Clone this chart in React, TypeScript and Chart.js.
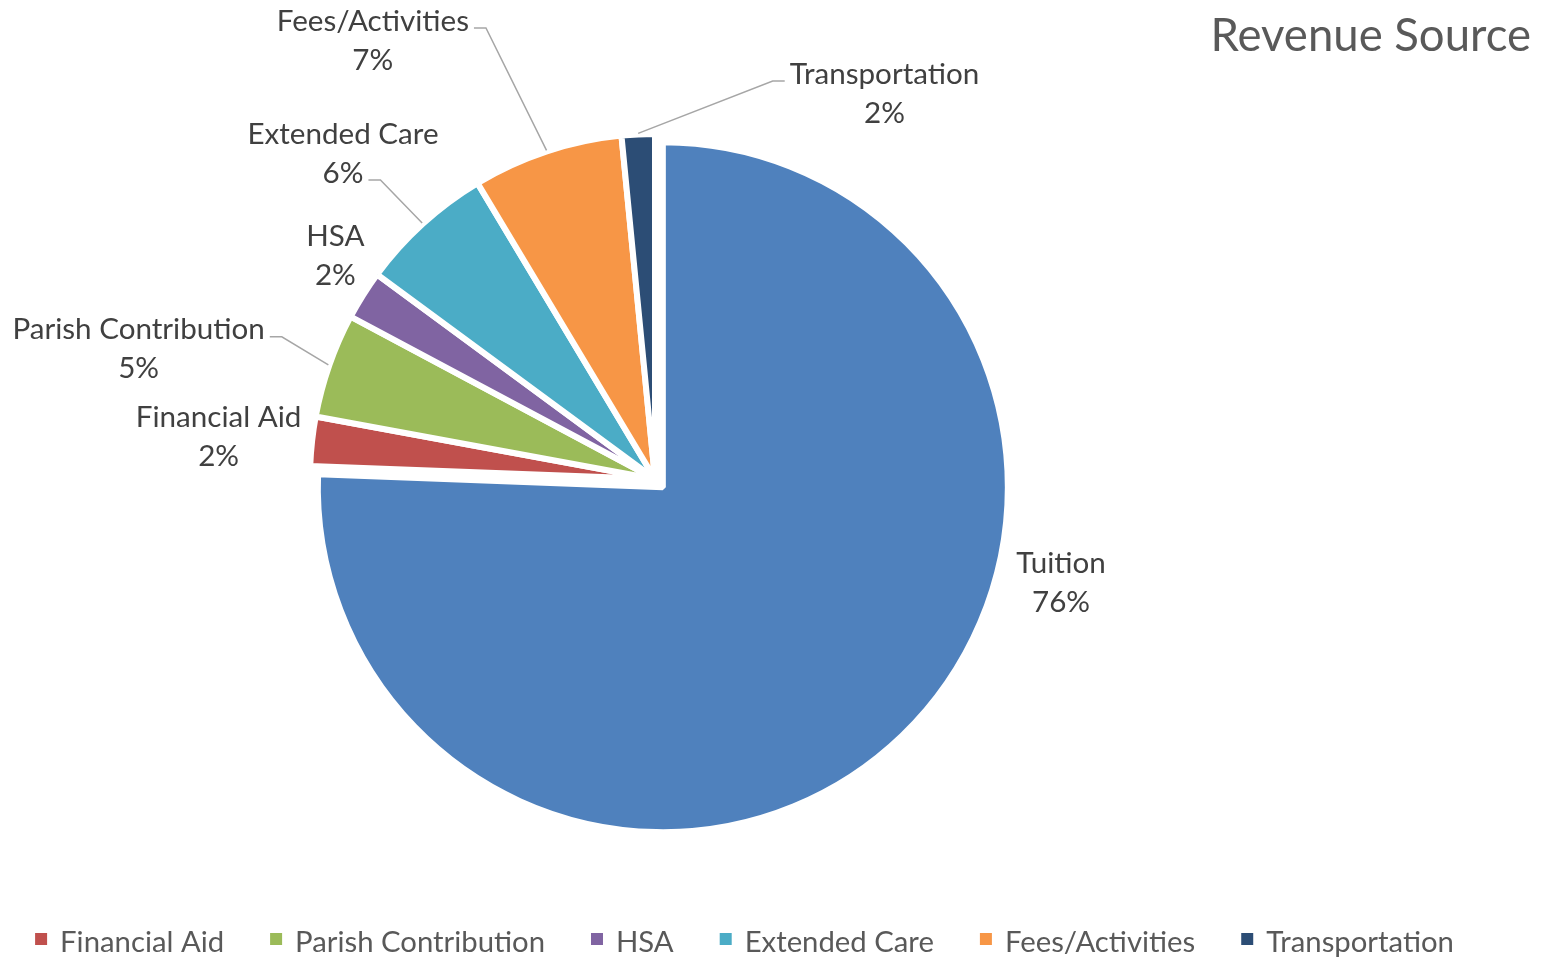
import React, { useEffect, useRef } from 'react';
import { Chart, registerables } from 'chart.js';

Chart.register(...registerables);

// ---------- data ----------
const CATEGORIES = ['Tuition', 'Financial Aid', 'Parish Contribution', 'HSA', 'Extended Care', 'Fees/Activities', 'Transportation'];
const SHARES = [75.6, 2.3, 4.9, 2.3, 6.3, 7.05, 1.55];
const COLORS = ['#4F81BD', '#C0504D', '#9BBB59', '#8064A2', '#4BACC6', '#F79646', '#2C4D75'];
const LEGEND_HIDDEN = ['Tuition'];
const TITLE = 'Revenue Source';

// ---------- layout / style ----------
const W = 1552;
const H = 958;
const PIE_RADIUS = 345;
const EXPLODE = [11.3, 0, 0, 0, 0, 0, 0];
const FONT = 'Lato, "Open Sans", sans-serif';
const LABEL_SIZE = 29.6;
const LEGEND_SIZE = 29.3;
const LINE_GAP = 39;
const CAP_RATIO = 0.7165;
const LABEL_COLOR = '#404040';
const LEADER_COLOR = '#A6A6A6';
const LEGEND_COLOR = '#595959';
const TITLE_COLOR = '#595959';
const TITLE_SIZE = 45.5;

// label block centre: angle clockwise from 12 o'clock (deg), distance in pie radii
type Leader = { side: 'left' | 'right'; line: number } | null;
const LABEL_LAYOUT: { angle: number; dist: number; leader: Leader }[] = [
  { angle: 104.2, dist: 1.214, leader: null },
  { angle: 275.6, dist: 1.271, leader: null },
  { angle: 284.2, dist: 1.544, leader: { side: 'right', line: 0 } },
  { angle: 305.0, dist: 1.131, leader: null },
  { angle: 316.3, dist: 1.309, leader: { side: 'right', line: 1 } },
  { angle: 327.3, dist: 1.514, leader: { side: 'right', line: 0 } },
  { angle: 30.7, dist: 1.303, leader: { side: 'left', line: 0 } },
];

const explodePlugin = {
  id: 'explodeSlices',
  beforeDatasetsDraw(chart: any) {
    const meta = chart.getDatasetMeta(0);
    const ca = chart.chartArea;
    const cx = (ca.left + ca.right) / 2;
    const cy = (ca.top + ca.bottom) / 2;
    meta.data.forEach((arc: any, i: number) => {
      const mid = (arc.startAngle + arc.endAngle) / 2;
      const d = EXPLODE[i] || 0;
      arc.x = cx + Math.cos(mid) * d;
      arc.y = cy + Math.sin(mid) * d;
    });
  },
};

const decorPlugin = {
  id: 'decor',
  afterDraw(chart: any) {
    const ctx = chart.ctx as CanvasRenderingContext2D;
    const meta = chart.getDatasetMeta(0);
    const ca = chart.chartArea;
    const cx = (ca.left + ca.right) / 2;
    const cy = (ca.top + ca.bottom) / 2;
    const values: number[] = chart.data.datasets[0].data;
    const total = values.reduce((a, b) => a + b, 0);

    ctx.save();
    // ---- data labels ----
    ctx.font = `${LABEL_SIZE}px ${FONT}`;
    const cap = LABEL_SIZE * CAP_RATIO;
    meta.data.forEach((arc: any, i: number) => {
      const L = LABEL_LAYOUT[i];
      const R = arc.outerRadius;
      const a = (L.angle * Math.PI) / 180;
      const bx = cx + Math.sin(a) * L.dist * R;
      const by = cy - Math.cos(a) * L.dist * R;
      const pct = Math.round((values[i] / total) * 100);
      const lines = [CATEGORIES[i], `${pct}%`];
      const centers = [by - LINE_GAP / 2, by + LINE_GAP / 2];

      if (L.leader) {
        const w = ctx.measureText(lines[L.leader.line]).width;
        const ly = centers[L.leader.line] + 8;
        const dir = L.leader.side === 'right' ? 1 : -1;
        const sx = bx + dir * (w / 2 + 5);
        const hx = sx + dir * 12;
        const mid = (arc.startAngle + arc.endAngle) / 2;
        const ex = arc.x + Math.cos(mid) * (R + 1);
        const ey = arc.y + Math.sin(mid) * (R + 1);
        ctx.strokeStyle = LEADER_COLOR;
        ctx.lineWidth = 1.5;
        ctx.beginPath();
        ctx.moveTo(sx, ly);
        ctx.lineTo(hx, ly);
        ctx.lineTo(ex, ey);
        ctx.stroke();
      }

      ctx.fillStyle = LABEL_COLOR;
      ctx.textAlign = 'center';
      ctx.textBaseline = 'alphabetic';
      lines.forEach((t, k) => ctx.fillText(t, bx, centers[k] + cap / 2));
    });

    // ---- legend ----
    ctx.font = `${LEGEND_SIZE}px ${FONT}`;
    const items = CATEGORIES.map((c, i) => ({ c, color: COLORS[i] })).filter((it) => !LEGEND_HIDDEN.includes(it.c));
    const BOX = 12;
    const BOX_TO_TEXT = 25;
    const ITEM_GAP = 46;
    const widths = items.map((it) => BOX_TO_TEXT + ctx.measureText(it.c).width);
    const totalW = widths.reduce((a, b) => a + b, 0) + ITEM_GAP * (items.length - 1);
    let x = 744.5 - totalW / 2;
    const baseY = 952;
    items.forEach((it, k) => {
      ctx.fillStyle = it.color;
      ctx.fillRect(x, 933, BOX, BOX);
      ctx.fillStyle = LEGEND_COLOR;
      ctx.textAlign = 'left';
      ctx.textBaseline = 'alphabetic';
      ctx.fillText(it.c, x + BOX_TO_TEXT, baseY);
      x += widths[k] + ITEM_GAP;
    });

    // ---- title ----
    ctx.font = `${TITLE_SIZE}px ${FONT}`;
    ctx.fillStyle = TITLE_COLOR;
    ctx.textAlign = 'right';
    ctx.textBaseline = 'alphabetic';
    ctx.fillText(TITLE, 1531, 51);
    ctx.restore();
  },
};

export default function App() {
  const ref = useRef<HTMLCanvasElement>(null);
  useEffect(() => {
    const canvas = ref.current;
    if (!canvas) return;
    const chart = new Chart(canvas, {
      type: 'pie',
      data: {
        labels: CATEGORIES,
        datasets: [
          {
            data: SHARES,
            backgroundColor: COLORS,
            borderColor: '#FFFFFF',
            borderWidth: 6,
            radius: PIE_RADIUS,
          } as any,
        ],
      },
      options: {
        responsive: false,
        animation: false,
        events: [],
        layout: { padding: { left: 0, right: 242, top: 0, bottom: 0 } },
        plugins: {
          legend: { display: false },
          title: { display: false },
          tooltip: { enabled: false },
        },
      },
      plugins: [explodePlugin, decorPlugin],
    });
    return () => chart.destroy();
  }, []);
  return (
    <div style={{ position: 'fixed', left: 0, top: 0, width: W, height: H, background: '#FFFFFF' }}>
      <canvas ref={ref} width={W} height={H} style={{ display: 'block', width: W, height: H }} />
    </div>
  );
}
